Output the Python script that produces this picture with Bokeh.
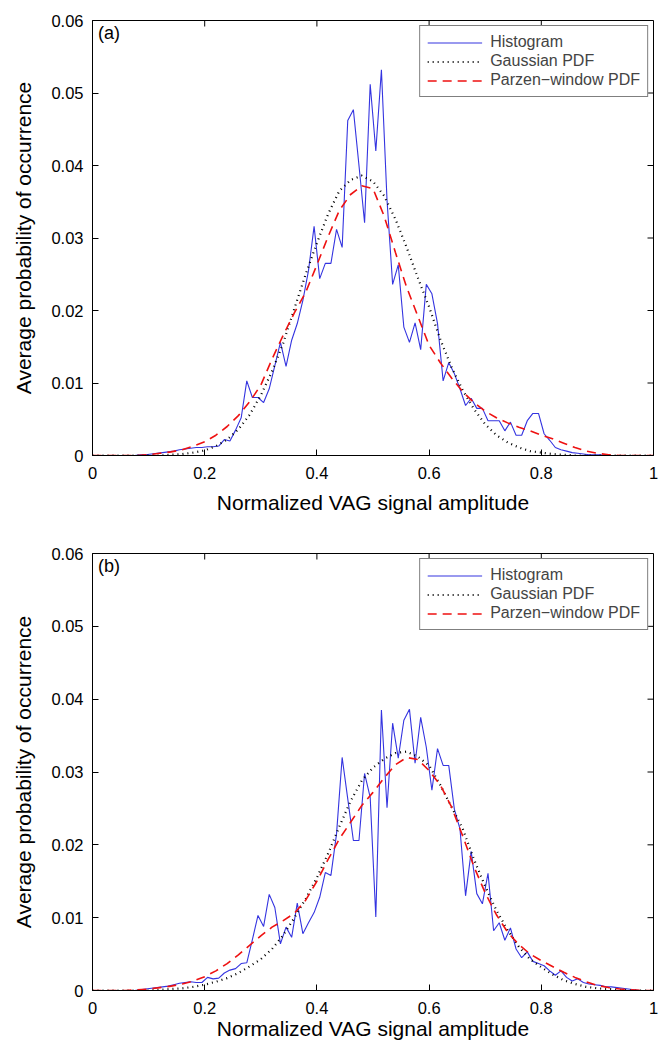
import numpy as np
from bokeh.plotting import figure
from bokeh.layouts import column
from bokeh.models import FixedTicker, CustomJSTickFormatter, Label, Range1d, Legend, LegendItem
from bokeh.embed import file_html
from bokeh.resources import INLINE

# ---------------- data ----------------
hist_x = [round(0.005 + 0.01 * k, 3) for k in range(100)]

hist_a = [0, 0, 0, 0, 0, 0, 0, 0, 0.0001, 0.0001,
          0.0002, 0.0003, 0.0004, 0.0005, 0.0006, 0.0008, 0.0009, 0.001, 0.0011, 0.0011,
          0.0012, 0.0012, 0.0013, 0.0022, 0.002, 0.0035, 0.0052, 0.0103, 0.008, 0.008,
          0.0073, 0.0092, 0.0124, 0.0156, 0.0123, 0.0159, 0.0182, 0.0214, 0.0255, 0.0316,
          0.0244, 0.0265, 0.0265, 0.0312, 0.0287, 0.0462, 0.0477, 0.040, 0.0321, 0.0512,
          0.042, 0.0532, 0.0352, 0.0236, 0.0263, 0.0177, 0.0156, 0.0183, 0.0146, 0.0236,
          0.0223, 0.0182, 0.0103, 0.0128, 0.0113, 0.0092, 0.0069, 0.0079, 0.0065, 0.0065,
          0.0048, 0.0048, 0.0048, 0.0034, 0.0046, 0.0028, 0.0028, 0.0048, 0.0058, 0.0058,
          0.003, 0.0021, 0.0011, 0.0008, 0.0006, 0.0004, 0.0003, 0.0002, 0.0001, 0.0001,
          0.0001, 0, 0, 0, 0, 0, 0, 0, 0, 0]

hist_b = [0, 0, 0, 0, 0, 0, 0, 0, 0.0001, 0.0002,
          0.0003, 0.0004, 0.0005, 0.0006, 0.0008, 0.001, 0.0011, 0.0012, 0.0011, 0.0011,
          0.0018, 0.0016, 0.0017, 0.0024, 0.0028, 0.003, 0.0037, 0.0038, 0.007, 0.0103,
          0.0088, 0.0132, 0.0114, 0.0064, 0.0087, 0.0073, 0.012, 0.0078, 0.0093, 0.0107,
          0.0128, 0.0162, 0.0158, 0.0215, 0.032, 0.0263, 0.0206, 0.0206, 0.0298, 0.0265,
          0.0101, 0.0385, 0.0251, 0.0367, 0.0319, 0.0371, 0.0386, 0.0312, 0.0375, 0.0334,
          0.0275, 0.0332, 0.0309, 0.0309, 0.0249, 0.0222, 0.013, 0.0191, 0.0133, 0.0119,
          0.0161, 0.0082, 0.0093, 0.0069, 0.0086, 0.0057, 0.0045, 0.0053, 0.004, 0.0037,
          0.0034, 0.0027, 0.0021, 0.0027, 0.0018, 0.0013, 0.0016, 0.0011, 0.0009, 0.0008,
          0.0007, 0.0005, 0.0005, 0.0004, 0.0003, 0.0002, 0.0001, 0, 0, 0]

pdf_x = [round(0.02 * i, 2) for i in range(51)]

gauss_a = [0, 0, 0, 0, 0, 0, 0, 0.0001, 0.0002, 0.0004,
           0.0007, 0.0013, 0.0022, 0.0036, 0.0056, 0.0083, 0.0116, 0.0155, 0.0203, 0.0250,
           0.0293, 0.0333, 0.0365, 0.0380, 0.0386, 0.0378, 0.0358, 0.0326, 0.0287, 0.0245,
           0.0205, 0.0160, 0.0122, 0.0090, 0.0064, 0.0043, 0.0028, 0.0018, 0.0011, 0.0006,
           0.0004, 0.0002, 0.0001, 0, 0, 0, 0, 0, 0, 0, 0]

parzen_a = [0, 0, 0, 0, 0, 0.0001, 0.0003, 0.0005, 0.0008, 0.0013,
            0.0019, 0.0028, 0.0040, 0.0055, 0.0074, 0.0097, 0.0133, 0.0166, 0.0197, 0.0225,
            0.0263, 0.0302, 0.0338, 0.0360, 0.0372, 0.0368, 0.0330, 0.0280, 0.0232, 0.0192,
            0.0152, 0.0128, 0.0107, 0.0088, 0.0073, 0.0061, 0.0052, 0.0045, 0.0039, 0.0034,
            0.0028, 0.0023, 0.0017, 0.0011, 0.0006, 0.0003, 0.0001, 0, 0, 0, 0]

gauss_b = [0, 0, 0, 0, 0, 0, 0.0001, 0.0002, 0.0003, 0.0005,
           0.0008, 0.0012, 0.0017, 0.0024, 0.0033, 0.0043, 0.0057, 0.0076, 0.0100, 0.0126,
           0.0155, 0.0188, 0.0225, 0.0260, 0.0288, 0.0306, 0.0318, 0.0326, 0.0328, 0.0321,
           0.0309, 0.0282, 0.0252, 0.0222, 0.0180, 0.0143, 0.0110, 0.0083, 0.0060, 0.0043,
           0.0032, 0.0022, 0.0014, 0.0009, 0.0005, 0.0003, 0.0002, 0.0001, 0, 0, 0]

parzen_b = [0, 0, 0, 0, 0.0001, 0.0002, 0.0004, 0.0006, 0.0009, 0.0013,
            0.0019, 0.0027, 0.0037, 0.0049, 0.0062, 0.0075, 0.0087, 0.0096, 0.0106, 0.0124,
            0.0150, 0.0180, 0.0208, 0.0231, 0.0254, 0.0272, 0.0292, 0.0310, 0.0320, 0.0317,
            0.0302, 0.0282, 0.0252, 0.0212, 0.0170, 0.0134, 0.0104, 0.0080, 0.0063, 0.0050,
            0.0041, 0.0033, 0.0025, 0.0018, 0.0012, 0.0007, 0.0004, 0.0002, 0.0001, 0, 0]

x_ticks = [0, 0.2, 0.4, 0.6, 0.8, 1]
y_ticks = [0, 0.01, 0.02, 0.03, 0.04, 0.05, 0.06]
panel_tags = ["(a)", "(b)"]
legend_labels = ["Histogram", "Gaussian PDF", "Parzen\u2212window PDF"]
x_title = "Normalized VAG signal amplitude"
y_title = "Average probability of occurrence"

FONT = "Liberation Sans"
TICK_PX = 6

xfmt = "return tick == 0 ? '0' : (tick == 1 ? '1' : tick.toFixed(1));"
yfmt = "return tick == 0 ? '0' : tick.toFixed(2);"


def make_panel(hist, gauss, parzen, tag, top_border, bottom_border, frame_h, xlabel_standoff):
    frame_w = 561
    left_b, right_b = 92, 7
    p = figure(width=left_b + frame_w + right_b, height=top_border + frame_h + bottom_border,
               output_backend="svg", toolbar_location=None,
               x_range=Range1d(0, 1), y_range=Range1d(0, 0.06),
               min_border_left=left_b, min_border_right=right_b,
               min_border_top=top_border, min_border_bottom=bottom_border)
    p.grid.visible = False
    p.outline_line_color = "black"
    p.outline_line_width = 1
    p.background_fill_color = "white"
    p.border_fill_color = "white"

    r1 = p.line(hist_x, hist, line_color="#3434e0", line_width=1.1)
    r2 = p.line(pdf_x, gauss, line_color="black", line_width=2.2, line_dash="1 4")
    r3 = p.line(pdf_x, parzen, line_color="#ee1111", line_width=1.6, line_dash="9 6")

    # inward ticks on top and right (box style)
    x_hi, y_hi = 1.0, 0.06
    dy = TICK_PX * y_hi / frame_h
    dx = TICK_PX * x_hi / frame_w
    p.segment(x0=x_ticks, y0=[y_hi] * len(x_ticks), x1=x_ticks, y1=[y_hi - dy] * len(x_ticks),
              line_color="black", line_width=1)
    p.segment(x0=[x_hi] * len(y_ticks), y0=y_ticks, x1=[x_hi - dx] * len(y_ticks), y1=y_ticks,
              line_color="black", line_width=1)

    xa = p.below[0]
    ya = p.left[0]
    xa.ticker = FixedTicker(ticks=x_ticks)
    xa.formatter = CustomJSTickFormatter(code=xfmt)
    xa.axis_label = x_title
    ya.ticker = FixedTicker(ticks=y_ticks)
    ya.formatter = CustomJSTickFormatter(code=yfmt)
    ya.axis_label = y_title

    for ax in (xa, ya):
        ax.major_tick_in = TICK_PX
        ax.major_tick_out = 0
        ax.minor_tick_line_color = None
        ax.axis_line_color = "black"
        ax.major_tick_line_color = "black"
        ax.major_label_text_font = FONT
        ax.major_label_text_color = "black"
        ax.major_label_text_font_size = "16.5px"
        ax.axis_label_text_font = FONT
        ax.axis_label_text_font_style = "normal"
        ax.axis_label_text_color = "black"
        ax.axis_label_text_font_size = "21px"
    xa.major_label_standoff = 11
    xa.axis_label_standoff = xlabel_standoff
    ya.major_label_standoff = 9
    ya.axis_label_standoff = 13

    leg = Legend(items=[LegendItem(label=legend_labels[0], renderers=[r1]),
                        LegendItem(label=legend_labels[1], renderers=[r2]),
                        LegendItem(label=legend_labels[2], renderers=[r3])],
                 location="top_right")
    leg.label_text_font = FONT
    leg.label_text_font_size = "16px"
    leg.label_height = 15
    leg.glyph_height = 15
    leg.glyph_width = 55
    leg.label_standoff = 8
    leg.spacing = 1
    leg.padding = 7
    leg.margin = 5
    leg.border_line_color = "black"
    leg.border_line_width = 1
    leg.background_fill_alpha = 1
    p.add_layout(leg, "center")

    p.add_layout(Label(x=0.01, y=0.0569, text=tag, text_font=FONT,
                       text_font_size="18px", text_color="black"))
    return p


pa = make_panel(hist_a, gauss_a, parzen_a, panel_tags[0], 20, 64, 435, 9)
pb = make_panel(hist_b, gauss_b, parzen_b, panel_tags[1], 34, 56, 437, 0)

layout = column(pa, pb, spacing=0)
open("out.html", "w").write(file_html(layout, INLINE))
